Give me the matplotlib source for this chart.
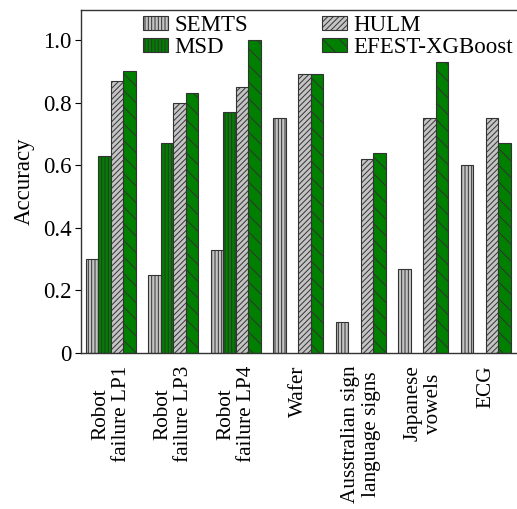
import numpy as np
import matplotlib
matplotlib.use("Agg")
import matplotlib.pyplot as plt

plt.rcParams["font.family"] = ["Liberation Serif", "DejaVu Serif"]
plt.rcParams["hatch.linewidth"] = 0.7

datasets = ["Robot\nfailure LP1", "Robot\nfailure LP3", "Robot\nfailure LP4", "Wafer",
            "Ausstralian sign\nlanguage signs", "Japanese\nvowels", "ECG"]
methods = ["SEMTS", "MSD", "HULM", "EFEST-XGBoost"]
semts = [0.30, 0.25, 0.33, 0.75, 0.10, 0.27, 0.60]
msd = [0.63, 0.67, 0.77, np.nan, np.nan, np.nan, np.nan]
hulm = [0.87, 0.80, 0.85, 0.89, 0.62, 0.75, 0.75]
efest = [0.90, 0.83, 1.00, 0.89, 0.64, 0.93, 0.67]

colors = ["#c4c4c4", "#007f00", "#c4c4c4", "#007f00"]
hatches = ["|||||", "|||||", "//////", "\\\\"]

fig = plt.figure(figsize=(5.17, 5.09), dpi=100)
ax = fig.add_axes([81 / 517, 1 - 353 / 509, 436 / 517, 343 / 509])

x = np.arange(len(datasets))
w = 0.2
bars = []
for k, vals in enumerate([semts, msd, hulm, efest]):
    b = ax.bar(x + (k - 1.5) * w, vals, w, color=colors[k], edgecolor="#333333",
               hatch=hatches[k], linewidth=0.8, label=methods[k])
    bars.append(b)

ax.set_xlim(-0.48, 6.5)
ax.set_ylim(0, 1.096)
ax.set_yticks([0, 0.2, 0.4, 0.6, 0.8, 1.0])
ax.set_yticklabels(["0", "0.2", "0.4", "0.6", "0.8", "1.0"], fontsize=16.5)
ax.set_xticks(x)
ax.set_xticklabels(datasets, rotation=90, fontsize=15.3, ha="center", va="top",
                   multialignment="center", linespacing=1.1)
ax.tick_params(axis="x", length=0, pad=9)
ax.tick_params(axis="y", length=4, width=0.8, direction="out", pad=3)
ax.set_ylabel("Accuracy", fontsize=16.5, labelpad=6)
ax.spines["right"].set_visible(False)
for s in ["left", "bottom", "top"]:
    ax.spines[s].set_color("#333333")
    ax.spines[s].set_linewidth(1.0)

ax.legend(ncol=2, loc="upper left", bbox_to_anchor=(0.115, 1.018),
          frameon=False, fontsize=16.5, borderpad=0, handlelength=1.1,
          handleheight=0.55, handletextpad=0.3, columnspacing=3.2, labelspacing=0.05)

fig.savefig("out.png", dpi=100)
